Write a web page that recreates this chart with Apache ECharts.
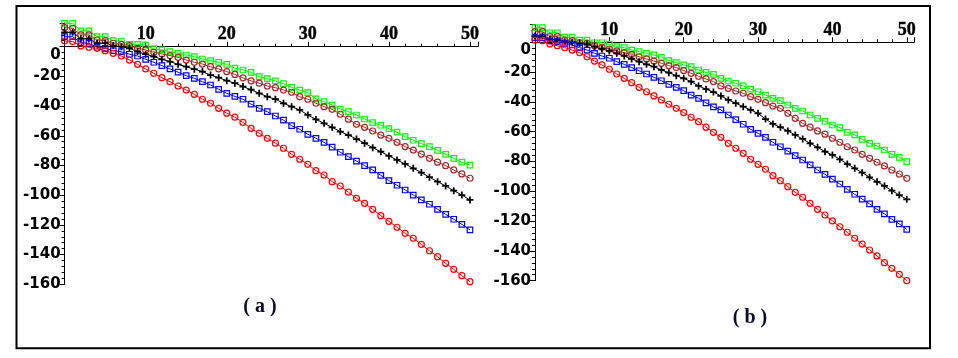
<!DOCTYPE html>
<html><head><meta charset="utf-8">
<script src="https://cdn.jsdelivr.net/npm/echarts@6/dist/echarts.min.js"></script>
<style>html,body{margin:0;padding:0;background:#fff}#c{width:958px;height:358px}</style>
</head><body><div id="c"></div>
<script>
// x values: 0..50 (one point per unit)
const xValues = [0,1,2,3,4,5,6,7,8,9,10,11,12,13,14,15,16,17,18,19,20,21,22,23,24,25,26,27,28,29,30,31,32,33,34,35,36,37,38,39,40,41,42,43,44,45,46,47,48,49,50];
const xTicks = [10,20,30,40,50];
const yTicks = [0,-20,-40,-60,-80,-100,-120,-140,-160];
const panelLabels = ['( a )','( b )'];

// Panel (a)
const greenA = [15.7,15.7,10.6,10.6,6.7,6.7,4.0,3.8,1.6,1.6,1.1,-1.5,-2.2,-3.4,-4.5,-5.6,-6.7,-8.3,-9.4,-10.5,-11.9,-14.5,-15.7,-17.3,-20.2,-21.5,-23.1,-24.9,-27.4,-29.2,-31.0,-35.2,-37.0,-39.3,-42.0,-43.8,-46.0,-48.7,-51.2,-52.9,-55.2,-57.6,-60.6,-63.0,-65.3,-67.3,-69.8,-72.5,-75.2,-77.8,-79.7];
const brownA = [12.8,12.4,7.9,7.9,4.5,4.0,2.3,1.6,0.7,-1.1,-2.2,-3.8,-4.9,-6.0,-7.2,-9.0,-10.5,-11.7,-13.5,-15.0,-16.8,-18.7,-21.0,-23.0,-24.6,-26.5,-27.6,-29.2,-30.7,-33.7,-35.4,-38.1,-40.4,-42.2,-45.5,-48.8,-52.3,-54.3,-56.8,-59.5,-61.7,-64.4,-67.3,-69.6,-72.3,-75.2,-77.8,-80.1,-83.0,-85.7,-88.6];
const blackA = [9.7,9.7,5.4,5.2,2.3,2.3,0.7,0.0,-1.1,-3.4,-5.1,-6.7,-8.5,-10.1,-11.9,-13.5,-15.2,-16.8,-19.1,-20.9,-22.9,-24.6,-26.9,-29.0,-31.4,-33.7,-35.4,-38.1,-40.4,-42.6,-46.0,-49.0,-51.6,-54.3,-57.2,-59.5,-62.2,-65.0,-68.0,-70.7,-73.6,-76.3,-79.0,-81.9,-84.8,-87.9,-90.9,-93.8,-97.0,-99.9,-103.2];
const blueA = [6.7,6.7,2.7,2.2,-0.4,-1.1,-2.7,-3.4,-5.1,-6.3,-8.5,-10.5,-12.8,-15.0,-17.2,-19.5,-21.3,-23.6,-25.8,-28.7,-31.4,-33.5,-35.4,-38.7,-41.5,-43.8,-46.7,-49.5,-53.2,-55.6,-59.0,-61.7,-64.4,-67.7,-71.1,-74.1,-77.0,-80.1,-83.0,-86.6,-90.2,-93.3,-96.5,-99.9,-103.2,-106.1,-109.5,-112.9,-116.2,-119.6,-123.4];
const redA = [3.8,3.4,0.5,-0.4,-1.1,-2.7,-4.5,-6.3,-9.0,-11.9,-15.0,-17.9,-20.9,-23.6,-26.5,-29.2,-32.1,-35.4,-38.1,-41.5,-44.8,-47.5,-51.0,-55.0,-58.3,-61.7,-65.0,-68.4,-72.5,-75.8,-79.2,-83.5,-86.4,-90.9,-93.8,-98.0,-102.1,-105.5,-109.5,-113.8,-117.6,-121.6,-125.7,-129.0,-133.1,-137.4,-141.4,-145.9,-149.9,-154.2,-158.2];

// Panel (b)
const greenB = [9.8,9.8,6.4,6.4,3.4,3.4,1.5,1.5,-0.3,-0.3,-1.3,-2.9,-3.6,-5.2,-6.3,-7.4,-8.5,-10.1,-12.3,-13.7,-15.2,-16.4,-18.6,-20.2,-21.5,-24.2,-26.0,-27.5,-29.3,-31.5,-33.2,-35.4,-37.6,-39.2,-42.1,-44.3,-46.1,-48.8,-51.0,-53.0,-55.5,-57.3,-60.4,-62.2,-65.1,-67.8,-69.6,-72.3,-75.2,-77.2,-80.1];
const brownB = [7.1,7.1,3.8,3.8,1.5,1.1,-0.3,-0.7,-2.3,-3.4,-4.5,-5.8,-7.0,-8.1,-9.7,-11.2,-12.6,-14.1,-15.7,-17.0,-19.0,-20.8,-22.8,-24.6,-26.4,-29.3,-30.9,-32.7,-34.2,-36.5,-38.3,-40.5,-42.8,-44.3,-47.7,-51.0,-54.4,-57.0,-59.5,-61.7,-64.4,-67.1,-70.1,-72.3,-75.2,-77.9,-80.5,-83.0,-85.7,-88.4,-91.3];
const blackB = [4.2,4.2,2.0,1.5,0.4,0.0,-0.7,-1.3,-2.9,-4.5,-5.8,-7.4,-9.2,-11.2,-13.0,-14.8,-16.4,-18.6,-20.4,-22.4,-24.2,-26.4,-29.3,-31.5,-33.4,-36.0,-38.7,-40.9,-43.2,-45.4,-47.7,-51.5,-54.8,-57.0,-59.5,-62.2,-64.9,-67.8,-70.5,-73.4,-75.6,-78.5,-81.7,-84.6,-87.5,-90.6,-93.6,-96.4,-99.6,-102.5,-105.4];
const blueB = [3.1,3.1,0.9,0.4,-0.7,-1.8,-3.6,-5.2,-7.4,-9.2,-10.7,-13.0,-14.8,-17.0,-19.1,-21.3,-23.5,-25.8,-28.2,-30.2,-32.5,-35.4,-37.6,-40.7,-43.4,-45.4,-48.8,-51.9,-55.0,-58.4,-61.1,-63.8,-67.1,-70.1,-73.0,-76.1,-79.0,-82.3,-85.7,-88.6,-91.9,-95.1,-98.7,-102.0,-105.2,-108.5,-112.1,-115.2,-118.8,-121.9,-125.5];
const redB = [1.5,1.1,-1.1,-2.3,-3.6,-5.2,-7.0,-9.7,-12.6,-15.2,-18.1,-21.3,-24.2,-27.1,-30.2,-33.2,-36.0,-38.7,-41.6,-44.3,-47.2,-50.3,-53.3,-57.0,-60.4,-63.8,-67.8,-71.1,-74.5,-78.5,-81.9,-85.2,-89.5,-92.9,-96.9,-100.7,-104.0,-108.1,-112.1,-115.9,-119.9,-123.8,-127.5,-131.5,-135.4,-139.4,-143.4,-147.9,-151.7,-155.7,-160.0];

const XFONT = 'Liberation Serif';
const YFONT = 'DejaVu Sans';
const SQ = 'rect', CI = 'circle', CROSS = 'path://M3,0H5V3H8V5H5V8H3V5H0V3H3Z';
const seriesDefs = [
  {name:'green', color:'#00ff00', sym:SQ, size:5.5, a:greenA, b:greenB},
  {name:'brown', color:'#a52a2a', sym:CI, size:6, a:brownA, b:brownB},
  {name:'black', color:'#000000', sym:CROSS, size:7, a:blackA, b:blackB},
  {name:'blue', color:'#0000ff', sym:SQ, size:5.5, a:blueA, b:blueB},
  {name:'red', color:'#ff0000', sym:CI, size:6, a:redA, b:redB}
];

function mkX(idx, off){
  return {type:'value', gridIndex:idx, min:0, max:51, interval:10, position:'top', offset:off,
    axisLine:{onZero:false, lineStyle:{color:'#000', width:1}},
    axisTick:{show:true, length:5, lineStyle:{color:'#000'}},
    minorTick:{show:true, splitNumber:5, length:3, lineStyle:{color:'#000'}},
    splitLine:{show:false},
    axisLabel:{margin:3, color:'#000', fontFamily:XFONT, fontWeight:'bold', fontSize:18,
      textBorderColor:'#000', textBorderWidth:0.4,
      formatter:v=> xTicks.indexOf(v)>=0 ? String(v) : ''}
  };
}
function mkY(idx,max){
  return {type:'value', gridIndex:idx, min:-160, max:max, interval:20,
    axisLine:{show:true, onZero:false, lineStyle:{color:'#000', width:1}},
    axisTick:{show:true, length:5, lineStyle:{color:'#000'}},
    minorTick:{show:true, splitNumber:5, length:3, lineStyle:{color:'#000'}},
    splitLine:{show:false},
    axisLabel:{margin:4, color:'#000', fontFamily:YFONT, fontWeight:'bold', fontSize:15,
      formatter:v=> { if (yTicks.indexOf(v)<0) return ''; if (v===0) return '{z|0}'; return String(v); },
      rich:{z:{padding:[16,0,0,0], fontFamily:YFONT, fontWeight:'bold', fontSize:15, color:'#000'}}
    }
  };
}
const series = [];
[['a',0],['b',1]].forEach(([k,gi])=>{
  seriesDefs.forEach(d=>{
    series.push({type:'line', xAxisIndex:gi, yAxisIndex:gi, name:d.name+k,
      data: xValues.map((x,i)=>[x, d[k][i]]),
      symbol:d.sym, symbolSize:d.size, showSymbol:true, clip:false,
      lineStyle:{color:d.color, width:1},
      itemStyle: d.sym===CROSS ? {color:d.color} : {color:'rgba(0,0,0,0)', borderColor:d.color, borderWidth:1.2},
      emphasis:{disabled:true}, silent:true, animation:false, z: 2});
  });
});

const chart = echarts.init(document.getElementById('c'), null, {renderer:'canvas'});
chart.setOption({
  animation:false,
  backgroundColor:'#fff',
  grid:[
    {left:64.6, top:22.9, width:413.5, height:261.4},
    {left:535, top:24.4, width:379.2, height:256.3}
  ],
  xAxis:[mkX(0, -23.8), mkX(1, -17.9)],
  yAxis:[mkY(0,16), mkY(1,12)],
  series: series,
  graphic:[
    {type:'rect', shape:{x:16.5, y:6, width:913.5, height:342.3}, style:{fill:'none', stroke:'#000', lineWidth:2}, silent:true},
    {type:'text', x:260, y:307, style:{text:panelLabels[0], font:'bold 20px "Liberation Serif"', fill:'#0a0a2a', textAlign:'center', textVerticalAlign:'middle'}},
    {type:'text', x:750, y:318, style:{text:panelLabels[1], font:'bold 20px "Liberation Serif"', fill:'#0a0a2a', textAlign:'center', textVerticalAlign:'middle'}}
  ]
});
</script></body></html>
